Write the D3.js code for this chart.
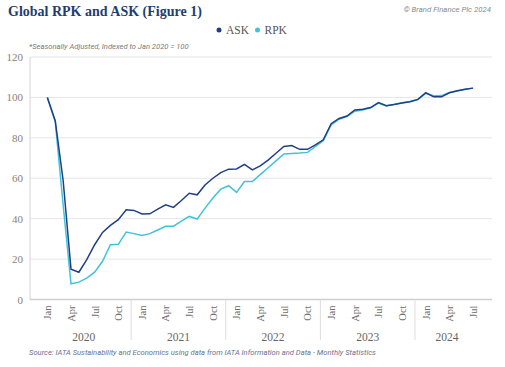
<!DOCTYPE html>
<html>
<head>
<meta charset="utf-8">
<script src="https://cdn.jsdelivr.net/npm/d3@7"></script>
<style>
  body { margin: 0; background: #fff; }
  .serif { font-family: "Liberation Serif", serif; }
  .note { font-family: Roboto, sans-serif; font-style: italic; }
</style>
</head>
<body>
<div id="main"></div>
<script>
const ctx = {
    w: 505,
    h: 367,
    LEFT: 30,
    RIGHT: 492,
    TOP: 57,
    BOTTOM: 299.5,
    ASK_COL: "#213f86",
    RPK_COL: "#3fc4d7"
};

// month labels and years (Jan 2020 .. Jul 2024)
const monthNames = ["Jan","Feb","Mar","Apr","May","Jun","Jul","Aug","Sep","Oct","Nov","Dec"];
const years = [2020, 2021, 2022, 2023, 2024];
const yTicks = [0, 20, 40, 60, 80, 100, 120];

// ASK index
const askValues = [
    100, 88.5, 59, 15, 13.5, 19.7, 27.1, 33.2, 36.7, 39.5, 44.4, 44.1,
    42.3, 42.4, 44.7, 46.9, 45.6, 49, 52.6, 51.8, 56.7, 60, 62.8, 64.5,
    64.6, 66.9, 64.1, 66.1, 69, 72.4, 75.7, 76.2, 74.3, 74.3, 76.5, 79,
    87, 89.6, 90.8, 93.8, 94.2, 95, 97.4, 95.9, 96.5, 97.2, 97.9, 99,
    102.3, 100.3, 100.3, 102.3, 103.3, 104, 104.6
];
// RPK index
const rpkValues = [
    100, 88, 47, 7.8, 8.6, 10.6, 13.5, 18.9, 27.1, 27.3, 33.4, 32.6,
    31.7, 32.6, 34.4, 36.2, 36.3, 38.8, 41.1, 39.8, 45.2, 50.2, 54.6, 56.3,
    53, 58.4, 58.4, 61.8, 65.2, 68.6, 72, 72.3, 72.5, 72.8, 75.7, 78.6,
    86.4, 89.2, 90.5, 93.2, 93.8, 94.8, 97.2, 95.8, 96.6, 97.4, 98, 99,
    102, 100.8, 100.9, 102.4, 103.2, 104, 104.6
];

function createViz(){
    let svgEl = d3.select("#main").append("svg")
        .attr("width", ctx.w)
        .attr("height", ctx.h);

    let xScale = d3.scaleLinear().domain([-2.2, 56.4]).range([ctx.LEFT, ctx.RIGHT]);
    let yScale = d3.scaleLinear().domain([0, 120]).range([ctx.BOTTOM, ctx.TOP]);

    // title + header texts
    svgEl.append("text")
        .attr("class", "serif")
        .attr("x", 8).attr("y", 15.5)
        .attr("font-size", 14).attr("font-weight", "bold")
        .attr("fill", "#1f3d70")
        .text("Global RPK and ASK (Figure 1)");
    svgEl.append("text")
        .attr("class", "note")
        .attr("x", 491).attr("y", 12)
        .attr("text-anchor", "end")
        .attr("font-size", 7.8).attr("fill", "#8a8a8a")
        .text("© Brand Finance Plc 2024");
    svgEl.append("text")
        .attr("class", "note")
        .attr("x", 29).attr("y", 48.5)
        .attr("font-size", 7.6).attr("fill", "#7a7a7a")
        .text("*Seasonally Adjusted, Indexed to Jan 2020 = 100");

    // legend
    let legend = [["ASK", ctx.ASK_COL, 219], ["RPK", ctx.RPK_COL, 257.5]];
    legend.forEach(([name, col, lx]) => {
        svgEl.append("circle").attr("cx", lx).attr("cy", 30).attr("r", 2.5).attr("fill", col);
        svgEl.append("text")
            .attr("class", "serif")
            .attr("x", lx + 7).attr("y", 33.8)
            .attr("font-size", 11.5).attr("fill", "#555")
            .text(name);
    });

    // gridlines
    svgEl.append("g")
        .selectAll("line")
        .data(yTicks.filter((d) => d > 0))
        .enter()
        .append("line")
        .attr("x1", ctx.LEFT).attr("x2", ctx.RIGHT)
        .attr("y1", (d) => yScale(d)).attr("y2", (d) => yScale(d))
        .attr("stroke", "#e6e6e6").attr("stroke-width", 1);

    // y axis
    let yAxis = svgEl.append("g")
        .attr("transform", `translate(${ctx.LEFT},0)`)
        .call(d3.axisLeft(yScale).tickValues(yTicks).tickSize(0).tickPadding(7));
    yAxis.select(".domain").attr("stroke", "#d4d4d4").attr("d", `M0,${ctx.TOP}V${ctx.BOTTOM}`);
    yAxis.selectAll("text")
        .attr("class", "serif")
        .attr("font-size", 11).attr("fill", "#8b8178");

    // x axis: every third month, rotated
    let monthIdx = d3.range(askValues.length);
    let xAxis = svgEl.append("g")
        .attr("transform", `translate(0,${ctx.BOTTOM})`)
        .call(d3.axisBottom(xScale)
            .tickValues(monthIdx.filter((k) => k % 3 == 0))
            .tickSize(0)
            .tickFormat((k) => monthNames[k % 12]));
    xAxis.select(".domain")
        .attr("stroke", "#cfcfcf").attr("stroke-width", 1.5)
        .attr("d", `M${ctx.LEFT},0H${ctx.RIGHT}`);
    xAxis.selectAll("text")
        .attr("class", "serif")
        .attr("font-size", 10.5).attr("fill", "#6e6e6e")
        .attr("text-anchor", "end")
        .attr("dy", "0.32em")
        .attr("transform", "translate(0,6) rotate(-90)")
        .attr("y", 0).attr("x", 0);

    // year groups: separators and labels
    let lastK = askValues.length - 1;
    years.forEach((yr, i) => {
        let k0 = i * 12 - 1.37;
        let k1 = Math.min(k0 + 12, lastK + 0.77);
        if (i > 0) {
            svgEl.append("line")
                .attr("x1", xScale(k0)).attr("x2", xScale(k0))
                .attr("y1", ctx.BOTTOM).attr("y2", 340)
                .attr("stroke", "#dddddd").attr("stroke-width", 1);
        }
        svgEl.append("text")
            .attr("class", "serif")
            .attr("x", xScale((k0 + k1) / 2)).attr("y", 341)
            .attr("text-anchor", "middle")
            .attr("font-size", 11.5).attr("fill", "#666")
            .text(yr);
    });

    // series lines
    let lineGen = d3.line()
        .x((d, k) => xScale(k))
        .y((d) => yScale(d));
    svgEl.append("path")
        .datum(rpkValues)
        .attr("d", lineGen)
        .attr("fill", "none")
        .attr("stroke", ctx.RPK_COL).attr("stroke-width", 1.5);
    svgEl.append("path")
        .datum(askValues)
        .attr("d", lineGen)
        .attr("fill", "none")
        .attr("stroke", ctx.ASK_COL).attr("stroke-width", 1.5);

    // source
    svgEl.append("text")
        .attr("class", "note")
        .attr("x", 29).attr("y", 354.5)
        .attr("font-size", 7.6).attr("fill", "#6c7093")
        .text("Source: IATA Sustainability and Economics using data from IATA Information and Data - Monthly Statistics");
}

createViz();
</script>
</body>
</html>
